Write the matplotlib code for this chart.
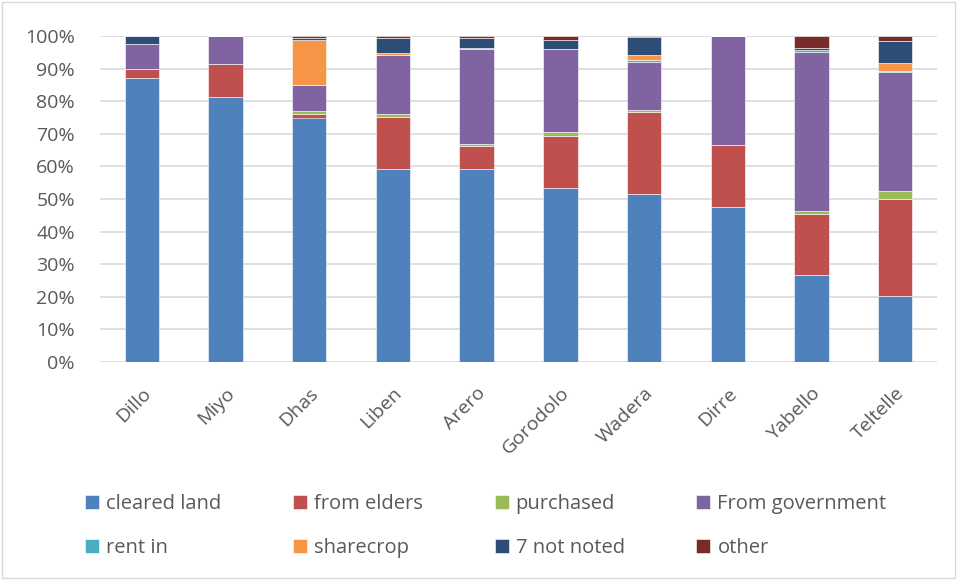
import numpy as np
import matplotlib
matplotlib.use("Agg")
import matplotlib.pyplot as plt
from matplotlib.patches import Rectangle

plt.rcParams['font.family'] = ['Open Sans', 'DejaVu Sans']

sites = ['Dillo', 'Miyo', 'Dhas', 'Liben', 'Arero', 'Gorodolo', 'Wadera',
         'Dirre', 'Yabello', 'Teltelle']

# share of land (%) by how it was obtained
cleared_land = [87.2, 81.2, 75.0, 59.2, 59.1, 53.3, 51.4, 47.4, 26.7, 20.2]
from_elders = [2.6, 10.3, 1.2, 16.0, 7.2, 16.0, 25.3, 19.2, 18.6, 29.7]
purchased = [0.0, 0.0, 0.8, 0.8, 0.6, 1.3, 0.6, 0.0, 1.1, 2.6]
from_government = [7.7, 8.5, 7.9, 18.3, 29.0, 25.3, 14.6, 33.4, 48.8, 36.6]
rent_in = [0.0, 0.0, 0.0, 0.0, 0.3, 0.2, 0.7, 0.0, 0.5, 0.2]
sharecrop = [0.0, 0.0, 13.8, 0.5, 0.0, 0.0, 1.7, 0.0, 0.0, 2.3]
not_noted = [2.5, 0.0, 0.8, 4.7, 3.3, 2.6, 5.5, 0.0, 0.6, 7.0]
other = [0.0, 0.0, 0.5, 0.5, 0.5, 1.3, 0.2, 0.0, 3.7, 1.4]

series = [
    ('cleared land', cleared_land, '#4F81BD'),
    ('from elders', from_elders, '#C0504D'),
    ('purchased', purchased, '#9BBB59'),
    ('From government', from_government, '#8064A2'),
    ('rent in', rent_in, '#4BACC6'),
    ('sharecrop', sharecrop, '#F79646'),
    ('7 not noted', not_noted, '#2C4D75'),
    ('other', other, '#772C2A'),
]

fig = plt.figure(figsize=(9.57, 5.8), dpi=100)
ax = fig.add_axes([100 / 957, 1 - 362 / 580, 837 / 957, 326 / 580])

x = np.arange(len(sites))
bottom = np.zeros(len(sites))
handles = []
for name, vals, col in series:
    v = np.array(vals)
    b = ax.bar(x, v, 0.41, bottom=bottom, color=col, edgecolor='white',
               linewidth=0.4, label=name, zorder=3)
    handles.append(b)
    bottom += v

ax.set_xlim(-0.5, len(sites) - 0.5)
ax.set_ylim(0, 100)
ax.set_yticks(np.arange(0, 101, 10))
ax.set_yticklabels([f'{t}%' for t in range(0, 101, 10)])
ax.grid(axis='y', color='#D9D9D9', linewidth=1.2, zorder=0)
for s in ax.spines.values():
    s.set_visible(False)
ax.tick_params(axis='both', length=0, labelsize=14, colors='#595959')
ax.tick_params(axis='y', pad=18)
ax.set_xticks(x)
ax.set_xticklabels(sites, rotation=45, ha='right', rotation_mode='anchor')
ax.tick_params(axis='x', pad=16)

order = [0, 4, 1, 5, 2, 6, 3, 7]
fig.legend([handles[i] for i in order], [series[i][0] for i in order],
           ncol=4, loc='upper left', bbox_to_anchor=(67 / 957, 1 - 476 / 580),
           frameon=False, fontsize=14.5, labelcolor='#595959',
           handlelength=0.7, handleheight=0.7, handletextpad=0.35,
           columnspacing=3.55, labelspacing=1.2)

fig.patches.append(Rectangle((0.002, 0.003), 0.996, 0.994, transform=fig.transFigure,
                             fill=False, edgecolor='#D9D9D9', linewidth=1.0))

fig.savefig('out.png', dpi=100)
